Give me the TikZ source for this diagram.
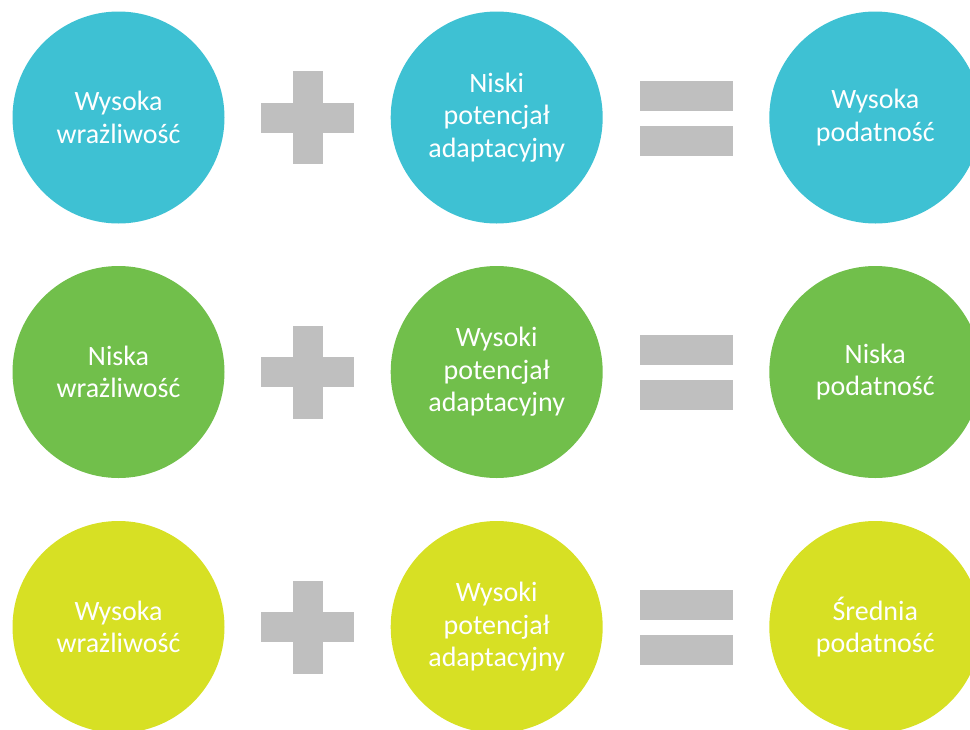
\documentclass[tikz,border=0pt]{standalone}
\usepackage{fontspec}
\setmainfont{Carlito}
\usepackage{xcolor}
\usepackage{tikz}
\usetikzlibrary{
  positioning,
  calc
}
\definecolor{vHigh}{HTML}{3EC1D3}
\definecolor{vLow}{HTML}{71BF4B}
\definecolor{vMid}{HTML}{D7E024}
\definecolor{vSign}{HTML}{BFBFBF}
\tikzset{
  factor/.style={
    circle, minimum size=212pt, inner sep=0pt, align=center,
    text=white, font=\fontsize{28}{32.5}\selectfont
  },
  highfactor/.style={factor, fill=vHigh},
  lowfactor/.style={factor, fill=vLow},
  midfactor/.style={factor, fill=vMid},
  signbar/.style={fill=vSign, inner sep=0pt, minimum width=93pt, minimum height=30pt},
  signpost/.style={signbar, minimum width=30pt, minimum height=93pt},
}

\begin{document}
\begin{tikzpicture}[x=1pt, y=-1pt]
  \useasboundingbox (0,0) rectangle (970,729);
  \clip (0,0) rectangle (970,729);
  % row 1: high susceptibility
  \node[highfactor] (a1) at (118.5,117.5) {Wysoka\\wrażliwość};
  \node[signbar] (p1h) at (307.5,117.5) {};
  \node[signpost] (p1v) at (p1h.center) {};
  \node[highfactor] (b1) at (496.7,117.5) {Niski\\potencjał\\adaptacyjny};
  \node[signbar] (e1t) at (686.3,95.5) {};
  \node[signbar, below=15pt of e1t] (e1b) {};
  \node[highfactor] (c1) at (875.3,117.5) {Wysoka\\podatność};
  % row 2: low susceptibility
  \node[lowfactor] (a2) at (118.5,372) {Niska\\wrażliwość};
  \node[signbar] (p2h) at (307.5,372) {};
  \node[signpost] (p2v) at (p2h.center) {};
  \node[lowfactor] (b2) at (496.7,372) {Wysoki\\potencjał\\adaptacyjny};
  \node[signbar] (e2t) at (686.3,350) {};
  \node[signbar, below=15pt of e2t] (e2b) {};
  \node[lowfactor] (c2) at (875.3,372) {Niska\\podatność};
  % row 3: medium susceptibility
  \node[midfactor] (a3) at (118.5,627) {Wysoka\\wrażliwość};
  \node[signbar] (p3h) at (307.5,627) {};
  \node[signpost] (p3v) at (p3h.center) {};
  \node[midfactor] (b3) at (496.7,627) {Wysoki\\potencjał\\adaptacyjny};
  \node[signbar] (e3t) at (686.3,605) {};
  \node[signbar, below=15pt of e3t] (e3b) {};
  \node[midfactor] (c3) at (875.3,627) {Średnia\\podatność};
\end{tikzpicture}
\end{document}
